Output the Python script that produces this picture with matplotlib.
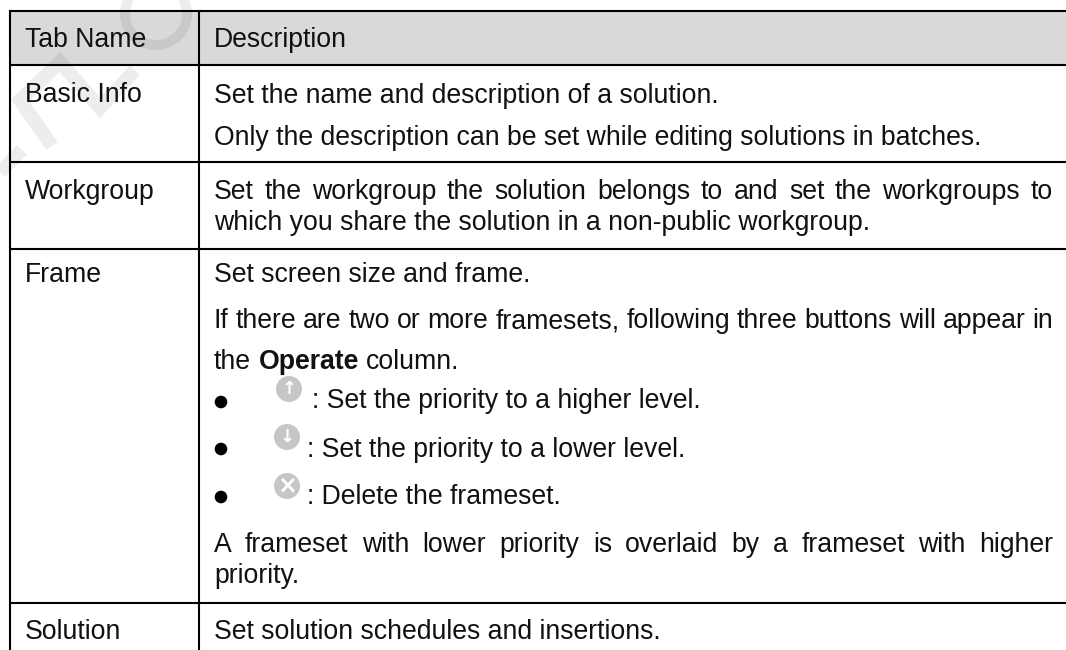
import matplotlib
matplotlib.use('Agg')
import matplotlib.pyplot as plt
from matplotlib.patches import Rectangle, Circle, Wedge

W, H = 1066, 650
LEFT, RIGHT = 214, 1053

col_names = ['Tab Name', 'Description']
tab_names = ['Basic Info', 'Workgroup', 'Frame', 'Solution']
tab_name_y = [102, 199, 282, 639]

# (baseline y, text, justified)
desc_lines = [
    (103, 'Set the name and description of a solution.', False),
    (145, 'Only the description can be set while editing solutions in batches.', False),
    (199, 'Set the workgroup the solution belongs to and set the workgroups to', True),
    (230, 'which you share the solution in a non-public workgroup.', False),
    (282, 'Set screen size and frame.', False),
    (328, 'If there are two or more framesets, following three buttons will appear in', True),
    (552, 'A frameset with lower priority is overlaid by a frameset with higher', True),
    (583, 'priority.', False),
    (639, 'Set solution schedules and insertions.', False),
]
operate_y = 369
operate_parts = ['the', 'Operate', 'column.']

bullet_y = [402, 449, 497]
icon_x = [289, 287, 287]
icon_y = [389, 437, 486]
icon_text = [': Set the priority to a higher level.',
             ': Set the priority to a lower level.',
             ': Delete the frameset.']
icon_text_x = [312, 307, 307]
icon_text_y = [408, 457, 504]

h_lines = [10.5, 64.5, 162, 248.5, 602.5]
v_lines = [10, 199]

plt.rcParams['font.family'] = ['Liberation Sans', 'DejaVu Sans']

fig = plt.figure(figsize=(W / 100, H / 100), dpi=100)
ax = fig.add_axes([0, 0, 1, 1])
ax.set_xlim(0, W)
ax.set_ylim(H, 0)
ax.axis('off')

size = 19.2
ink = '#111111'


def text_width(s, **kw):
    t = ax.text(0, 0, s, fontsize=size, **kw)
    w = t.get_window_extent(fig.canvas.get_renderer()).width
    t.remove()
    return w


def put(x, y, s, **kw):
    ax.text(x, y, s, fontsize=size, va='baseline', color=ink, zorder=5, **kw)


def put_justified(y, s):
    words = s.split(' ')
    widths = [text_width(w) for w in words]
    gap = (RIGHT - LEFT - sum(widths)) / (len(words) - 1)
    x = LEFT
    for word, w in zip(words, widths):
        put(x, y, word)
        x += w + gap


ax.add_patch(Rectangle((10, 10), W - 10, 54, color='#d9d9d9', lw=0, zorder=1))

# watermark letters, only the parts that show
ax.add_patch(Wedge((156, 14), 36, 0, 360, width=10, color='black', alpha=0.07, lw=0, zorder=2))
ax.plot([135, 100, 60, 20, 52], [70, 108, 62, 100, 146], color='black', alpha=0.07, lw=10,
        solid_joinstyle='miter', solid_capstyle='butt', zorder=2)
ax.plot([0, 22], [172, 150], color='black', alpha=0.07, lw=10, solid_capstyle='butt', zorder=2)

for y in h_lines:
    ax.plot([10, W], [y, y], color='black', lw=1.5, zorder=3, solid_capstyle='butt')
for x in v_lines:
    ax.plot([x, x], [10, H], color='black', lw=1.5, zorder=3, solid_capstyle='butt')

put(25, 47, col_names[0])
put(LEFT, 47, col_names[1])
for name, y in zip(tab_names, tab_name_y):
    put(25, y, name)
for y, line, justified in desc_lines:
    if justified:
        put_justified(y, line)
    else:
        put(LEFT, y, line)

x = LEFT
for part in operate_parts:
    weight = 'bold' if part == 'Operate' else 'normal'
    put(x, operate_y, part, fontweight=weight)
    x += text_width(part, fontweight=weight) + 7.4

for y in bullet_y:
    ax.add_patch(Circle((221, y), 6.3, color='black', lw=0, zorder=5))
for cx, cy, tx, ty, s in zip(icon_x, icon_y, icon_text_x, icon_text_y, icon_text):
    ax.add_patch(Circle((cx, cy), 13, color='#c6c6c6', lw=0, zorder=4))
    put(tx, ty, s)

# glyphs inside the grey buttons
ax.text(icon_x[0], icon_y[0], '↑', fontsize=13, color='white', ha='center', va='center',
        fontweight='bold', family='DejaVu Sans', zorder=5)
ax.text(icon_x[1], icon_y[1], '↓', fontsize=13, color='white', ha='center', va='center',
        fontweight='bold', family='DejaVu Sans', zorder=5)
ax.text(icon_x[2], icon_y[2], '×', fontsize=17, color='white', ha='center', va='center',
        fontweight='bold', family='DejaVu Sans', zorder=5)

plt.savefig('out.png', dpi=100)
